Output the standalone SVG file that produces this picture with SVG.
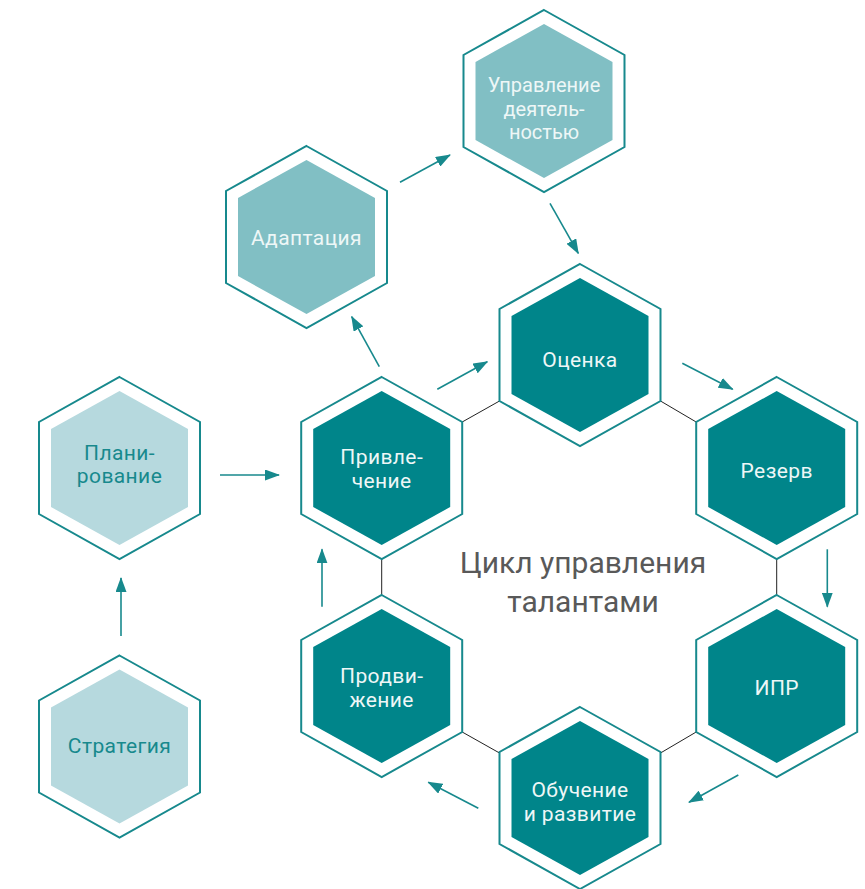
<svg xmlns="http://www.w3.org/2000/svg" xmlns:xlink="http://www.w3.org/1999/xlink" width="865" height="889" viewBox="0 0 865 889">
<style>
.outer{fill:#ffffff;stroke:#17898d;stroke-width:2}
.dark{fill:#00858a}
.mid{fill:#81bfc4}
.light{fill:#b6d9de}
.lbl{font-family:Roboto,"Liberation Sans",sans-serif;font-size:21px;letter-spacing:0.4px;text-anchor:middle;fill:#eef7f7}
.lbl.sm{font-size:20px;letter-spacing:0}
.lbl.tl{fill:#17898d}
.title{font-family:Roboto,"Liberation Sans",sans-serif;font-size:30px;text-anchor:middle;fill:#595959}
.con line{stroke:#222;stroke-width:1}
.arr line{stroke:#17898d;stroke-width:1.6;marker-end:url(#ah)}
</style>
<defs>
<polygon id="ho" points="0,-91 80.5,-46 80.5,46 0,91 -80.5,46 -80.5,-46"/>
<polygon id="hi" points="0,-77 68.5,-39 68.5,39 0,77 -68.5,39 -68.5,-39"/>
<marker id="ah" markerUnits="userSpaceOnUse" markerWidth="15" markerHeight="11" viewBox="0 0 15 11" refX="14" refY="5.5" orient="auto">
<path d="M0,0 L15,5.5 L0,11 z" fill="#17898d"/>
</marker>
</defs>
<g id="connectors">
<g class="con">
<line x1="462.2" y1="422" x2="499.5" y2="401"/>
<line x1="660.5" y1="401" x2="696.2" y2="422"/>
<line x1="776.7" y1="559" x2="776.7" y2="595"/>
<line x1="696.2" y1="732" x2="660.5" y2="753"/>
<line x1="499.5" y1="753" x2="462.2" y2="732"/>
<line x1="381.7" y1="595" x2="381.7" y2="559"/>
</g>
<g class="arr">
<line x1="121" y1="636" x2="121" y2="578"/>
<line x1="220" y1="475" x2="279" y2="475"/>
<line x1="379.3" y1="366.7" x2="351.7" y2="316.7"/>
<line x1="400" y1="182.3" x2="450" y2="155"/>
<line x1="550" y1="203.3" x2="578.3" y2="253.3"/>
<line x1="437.3" y1="389.3" x2="487.3" y2="361.7"/>
<line x1="682.3" y1="363.3" x2="732.7" y2="389.3"/>
<line x1="827.3" y1="549.3" x2="827.3" y2="606.7"/>
<line x1="738.3" y1="775" x2="689" y2="802.3"/>
<line x1="478.3" y1="808.3" x2="428.3" y2="782.3"/>
<line x1="322" y1="606.7" x2="322" y2="549.3"/>
</g>
</g>
<g id="n-upravlenie" transform="translate(544,101)">
<use href="#ho" class="outer"/><use href="#hi" class="mid"/>
<text class="lbl sm" y="-9">Управление</text>
<text class="lbl sm" y="15">деятель-</text>
<text class="lbl sm" y="38">ностью</text>
</g>
<g id="n-adaptaciya" transform="translate(306.5,237)">
<use href="#ho" class="outer"/><use href="#hi" class="mid"/>
<text class="lbl" y="8">Адаптация</text>
</g>
<g id="n-ocenka" transform="translate(580,355)">
<use href="#ho" class="outer"/><use href="#hi" class="dark"/>
<text class="lbl" y="12">Оценка</text>
</g>
<g id="n-privlechenie" transform="translate(381.7,468)">
<use href="#ho" class="outer"/><use href="#hi" class="dark"/>
<text class="lbl" y="-4">Привле-</text>
<text class="lbl" y="20">чение</text>
</g>
<g id="n-rezerv" transform="translate(776.7,468)">
<use href="#ho" class="outer"/><use href="#hi" class="dark"/>
<text class="lbl" y="10">Резерв</text>
</g>
<g id="n-planirovanie" transform="translate(119.5,468)">
<use href="#ho" class="outer"/><use href="#hi" class="light"/>
<text class="lbl tl" y="-8">Плани-</text>
<text class="lbl tl" y="15">рование</text>
</g>
<g id="n-prodvizhenie" transform="translate(381.7,686)">
<use href="#ho" class="outer"/><use href="#hi" class="dark"/>
<text class="lbl" y="-3">Продви-</text>
<text class="lbl" y="21">жение</text>
</g>
<g id="n-ipr" transform="translate(776.7,686)">
<use href="#ho" class="outer"/><use href="#hi" class="dark"/>
<text class="lbl" y="9">ИПР</text>
</g>
<g id="n-obuchenie" transform="translate(580,798)">
<use href="#ho" class="outer"/><use href="#hi" class="dark"/>
<text class="lbl" y="-1">Обучение</text>
<text class="lbl" y="23">и развитие</text>
</g>
<g id="n-strategiya" transform="translate(119.5,746.5)">
<use href="#ho" class="outer"/><use href="#hi" class="light"/>
<text class="lbl tl" y="6">Стратегия</text>
</g>
<g id="title">
<text class="title" x="583" y="573">Цикл управления</text>
<text class="title" x="583" y="612">талантами</text>
</g>
</svg>
